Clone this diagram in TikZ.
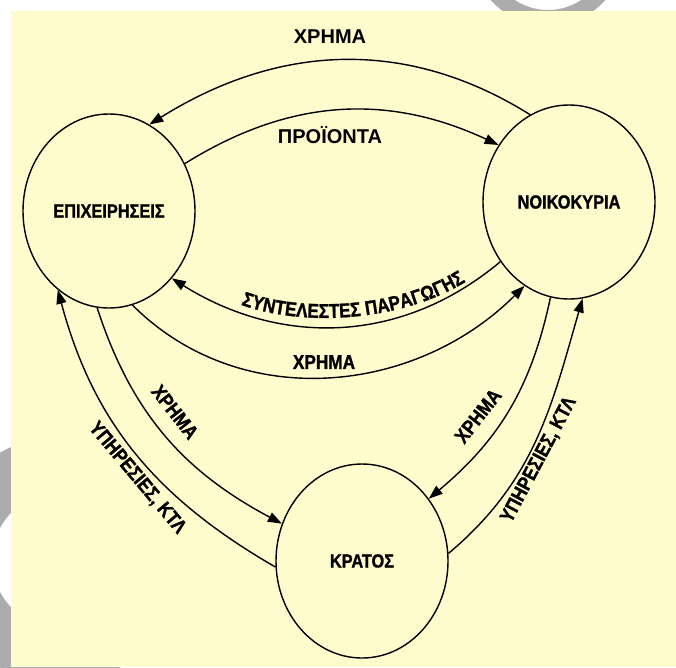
\documentclass[tikz,border=0pt]{standalone}
\usepackage{fontspec}
\newfontfamily\grk{Liberation Sans}[FakeStretch=0.86, BoldFont={Liberation Sans Bold},
  BoldFeatures={FakeStretch=0.86, FakeBold=1.2}]
\newfontfamily\grkw{Liberation Sans}[BoldFont={Liberation Sans Bold}]
\usetikzlibrary{shapes.geometric,arrows.meta,decorations.text}
\definecolor{paper}{RGB}{254,252,204}
\definecolor{ringgrey}{RGB}{172,172,172}
\tikzset{
  sector/.style={ellipse, draw, line width=1.4pt, minimum width=172pt, minimum height=194pt,
    inner sep=0pt, font=\grk\bfseries\fontsize{19}{19}\selectfont},
  flow/.style={line width=1.4pt, -{Triangle[length=14pt,width=10pt]}},
  lbl/.style={inner sep=0pt, font=\grk\bfseries\fontsize{20}{20}\selectfont},
  lblw/.style={inner sep=0pt, font=\grkw\bfseries\fontsize{20}{20}\selectfont}
}

\begin{document}
\begin{tikzpicture}[x=1pt,y=1pt]
    \useasboundingbox (0,0) rectangle (676,-667);
    \clip (0,0) rectangle (676,-667);
    \fill[white] (0,0) rectangle (676,-667);
    % grey rings behind the sheet
    \fill[ringgrey, even odd rule] (548,50) circle (76) (548,50) circle (60);
    \fill[ringgrey, even odd rule] (60,-560) circle (123) (60,-560) circle (68);
    \fill[paper] (11,-11) rectangle (676,-667);

    \node[sector] (epix) at (109,-211) {ΕΠΙΧΕΙΡΗΣΕΙΣ};
    \node[sector] (noik) at (569,-202) {ΝΟΙΚΟΚΥΡΙΑ};
    \node[sector] (krat) at (362,-561) {ΚΡΑΤΟΣ};

    % flows between epix and noik
    \draw[flow] (noik.114) to[out=148, in=32] (epix.65);
    \draw[flow] (epix.32) to[out=32, in=155] (noik.141);
    \draw[flow] (noik.221) to[out=220, in=-32] (epix.-47);
    \draw[flow] (epix.-76) to[out=-45, in=-135] (noik.-118);

    % flows with krat
    \draw[flow] (epix.-97) to[out=-72, in=152] (krat.155);
    \draw[flow] (krat.184) to[out=150, in=-75] (epix.-123);
    \draw[flow] (noik.-101) to[out=-102, in=40] (krat.43);
    \draw[flow] (krat.5) to[out=40, in=-106] (noik.-82);

    \node[lblw] (m1) at (330,-37) {ΧΡΗΜΑ};
    \node[lblw] (pr) at (330,-135) {ΠΡΟΪΟΝΤΑ};
    \node[lbl] (m2) at (324,-362) {ΧΡΗΜΑ};
    \node[lbl, rotate=-52] (m3) at (175,-412) {ΧΡΗΜΑ};
    \node[lbl, rotate=-50] (yp1) at (137,-478) {ΥΠΗΡΕΣΙΕΣ, ΚΤΛ};
    \node[lbl, rotate=52] (m4) at (478,-416) {ΧΡΗΜΑ};
    \node[lbl, rotate=62] (yp2) at (539,-460) {ΥΠΗΡΕΣΙΕΣ, ΚΤΛ};

    \path[decorate, decoration={text along path, text align=center,
        text={|\grk\bfseries\fontsize{20}{20}\selectfont|ΣΥΝΤΕΛΕΣΤΕΣ ΠΑΡΑΓΩΓΗΣ}}]
        (225,-298) .. controls (290,-330) and (410,-325) .. (480,-272);
\end{tikzpicture}
\end{document}
